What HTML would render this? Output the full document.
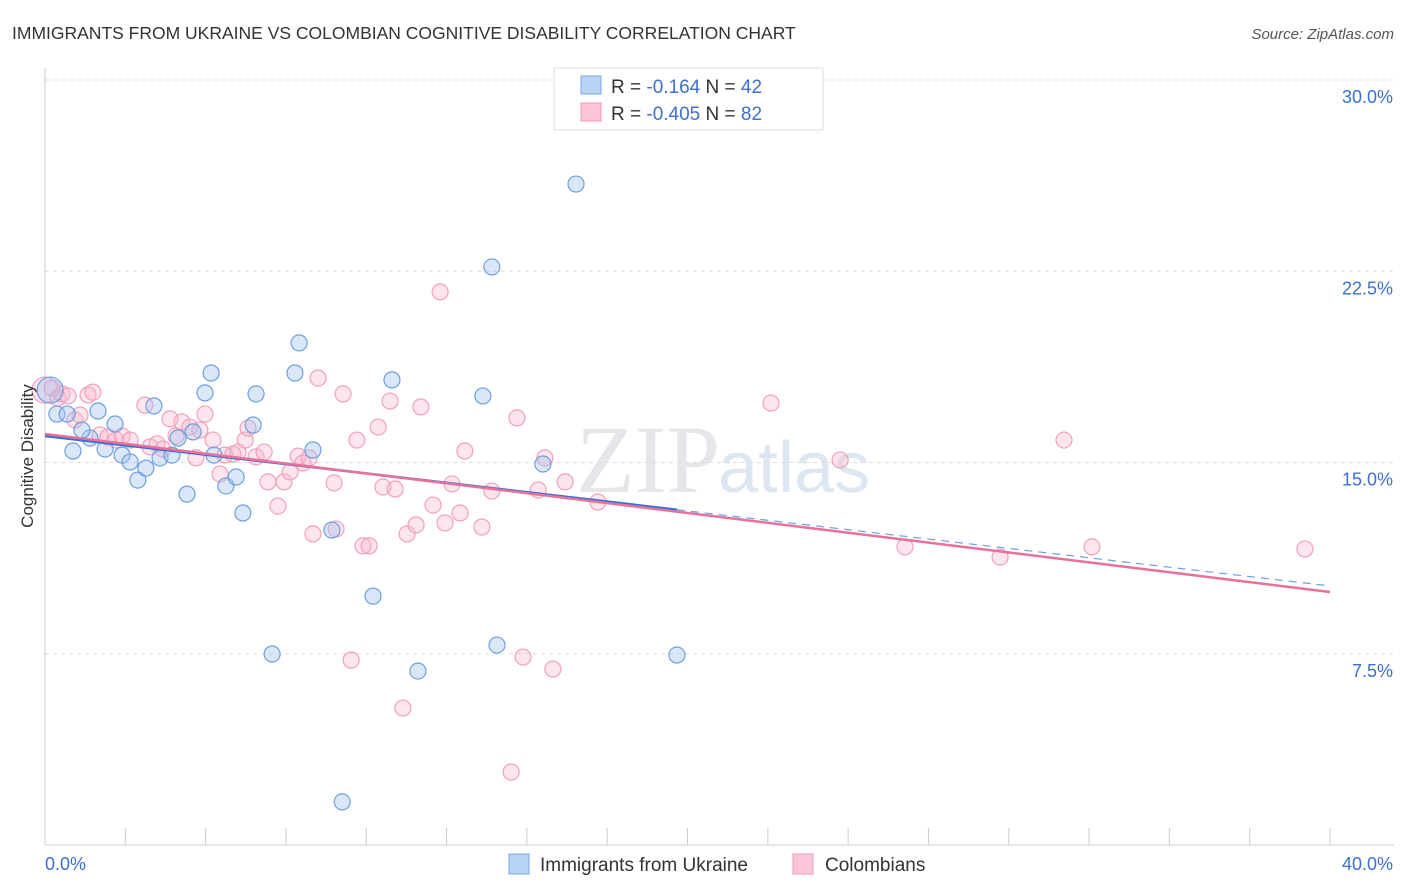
<!DOCTYPE html>
<html><head><meta charset="utf-8"><style>
body{margin:0;background:#fff;font-family:"Liberation Sans",sans-serif;}
svg{display:block}
</style></head><body>
<svg id="chart" width="1406" height="892">
<text x="12" y="39" font-size="17.5" fill="#333">IMMIGRANTS FROM UKRAINE VS COLOMBIAN COGNITIVE DISABILITY CORRELATION CHART</text>
<text x="1394" y="39" font-size="15" fill="#555" font-style="italic" text-anchor="end">Source: ZipAtlas.com</text>
<text x="720" y="492" font-size="96" fill="#e6e6ea" text-anchor="end" font-family="Liberation Serif">ZIP</text>
<text x="718" y="492" font-size="72" fill="#dde7f3">atlas</text>
<g id="grid"></g><g id="axes"></g><g id="marks"></g>
<text transform="translate(33,456) rotate(-90)" font-size="17" fill="#333" text-anchor="middle">Cognitive Disability</text>
<g>
<rect x="554" y="68" width="269" height="62" fill="#fff" stroke="#ddd"/>
<rect x="581" y="76" width="20" height="18" fill="#b8d3f5" stroke="#7aaae6"/>
<rect x="581" y="103" width="20" height="18" fill="#fbc6d6" stroke="#f19ab6"/>
<text x="611" y="93" font-size="19" fill="#333">R = <tspan fill="#3d6fd0"> -0.164</tspan>   N = <tspan fill="#3d6fd0">42</tspan></text>
<text x="611" y="120" font-size="19" fill="#333">R = <tspan fill="#3d6fd0">-0.405</tspan>   N = <tspan fill="#3d6fd0">82</tspan></text>
</g>
<g>
<rect x="509" y="854" width="20" height="20" fill="#b8d3f5" stroke="#7aaae6"/>
<text x="540" y="871" font-size="19" fill="#333">Immigrants from Ukraine</text>
<rect x="793" y="854" width="20" height="20" fill="#fbc6d6" stroke="#f19ab6"/>
<text x="825" y="871" font-size="19" fill="#333">Colombians</text>
</g>
</svg>
<script>
const yTicks=[7.5,15,22.5,30];
const yTickLabels=["7.5%","15.0%","22.5%","30.0%"];
const xTicks=[0,5,10,15,20,25,30,35,40];
const blueX=[.37,.69,1.65,.87,1.40,1.15,2.18,1.87,2.40,2.65,2.89,3.14,3.39,3.58,3.95,4.14,4.42,4.61,4.98,5.17,5.26,5.63,5.95,6.16,6.48,6.57,7.07,7.78,7.91,8.34,8.93,9.25,10.21,10.80,11.61,13.63,13.91,14.07,15.50,16.53,19.67,.16];
const blueY=[16.90,16.90,17.02,15.45,15.96,16.27,16.51,15.53,15.29,15.02,14.31,14.78,17.22,15.18,15.29,15.96,13.76,16.20,17.73,18.51,15.29,14.08,14.43,13.02,16.47,17.69,7.49,18.51,19.69,15.49,12.35,1.69,9.76,18.24,6.82,17.61,22.67,7.84,14.94,25.92,7.45,17.84];
const pinkX=[0,.22,.40,.53,.72,.93,1.09,1.34,1.49,1.71,1.96,2.21,2.40,2.65,3.11,3.27,3.49,3.67,3.89,4.08,4.26,4.51,4.70,4.82,4.98,5.23,5.45,5.60,5.85,6.01,6.23,6.32,6.57,6.82,6.94,7.25,7.44,7.63,7.88,8.03,8.22,8.50,8.34,9.00,9.06,9.28,9.53,9.71,9.90,10.09,10.37,10.52,10.74,10.90,11.14,11.27,11.55,11.70,12.08,12.30,12.45,12.67,12.92,13.07,13.60,13.91,14.51,14.69,14.88,15.35,15.56,15.81,16.19,17.21,22.60,24.75,26.77,29.73,31.72,32.59,39.22];
const pinkY=[17.84,17.92,17.53,17.69,17.61,16.67,16.86,17.65,17.76,16.08,16.00,15.88,16.04,15.88,17.25,15.61,15.73,15.53,16.71,16.04,16.59,16.39,15.18,16.27,16.90,15.88,14.55,15.29,15.33,15.41,15.88,16.35,15.22,15.41,14.24,13.29,14.24,14.63,15.25,14.98,15.18,18.31,12.20,14.20,12.39,17.69,7.25,15.88,11.73,11.73,16.39,14.04,17.41,13.96,5.37,12.20,12.55,17.18,13.33,21.69,12.63,14.16,13.02,15.45,12.47,13.88,2.86,16.75,7.37,13.92,15.18,6.90,14.24,13.45,17.33,15.10,11.69,11.29,15.88,11.69,11.61];
const blueTrend=[16.04,-0.147];
const pinkTrend=[16.12,-0.155];
const NS="http://www.w3.org/2000/svg";
const X=v=>45+v*32.125, Y=v=>80+(30-v)*25.5;
function mk(tag,attrs,parent){const e=document.createElementNS(NS,tag);for(const k in attrs)e.setAttribute(k,attrs[k]);document.getElementById(parent).appendChild(e);return e;}
yTicks.forEach((t,i)=>{
 const l=mk('line',{x1:45,x2:1394,y1:Y(t),y2:Y(t),stroke:'#ddd','stroke-dasharray':'4,4'},'grid');
 
 
 const tx=mk('text',{x:1393,y:Y(t)+23,'font-size':18,fill:'#3d6fd0','text-anchor':'end'},'grid');
 tx.textContent=yTickLabels[i];
 
 
});
const ax=mk('line',{x1:45,x2:45,y1:68,y2:845,stroke:'#ccc'},'axes');


const bx=mk('line',{x1:45,x2:1394,y1:845,y2:845,stroke:'#ccc'},'axes');


xTicks.forEach(t=>{
 const l=mk('line',{x1:X(t),x2:X(t),y1:828,y2:845,stroke:'#ccc'},'axes');
 
 
});
for(let t=2.5;t<40;t+=5){const l=mk('line',{x1:X(t),x2:X(t),y1:828,y2:845,stroke:'#ccc'},'axes');
 
 }
const x0=mk('text',{x:45,y:870,'font-size':18,fill:'#3d6fd0'},'axes');x0.textContent='0.0%';


const x1=mk('text',{x:1393,y:870,'font-size':18,fill:'#3d6fd0','text-anchor':'end'},'axes');x1.textContent='40.0%';


pinkX.forEach((v,i)=>{
 const c=mk('circle',{cx:X(v),cy:Y(pinkY[i]),r:i===0?13:8,fill:'rgba(248,180,202,0.35)',stroke:'#f0a0bb','stroke-width':1.2},'marks');
 
 
});
blueX.forEach((v,i)=>{
 const c=mk('circle',{cx:X(v),cy:Y(blueY[i]),r:i===41?13:8,fill:'rgba(160,196,240,0.4)',stroke:'#6e9fe0','stroke-width':1.2},'marks');
 
 
});
const bMax=Math.max(...blueX);
let l=mk('line',{x1:X(0),y1:Y(blueTrend[0]),x2:X(bMax),y2:Y(blueTrend[0]+blueTrend[1]*bMax),stroke:'#3a6fd0','stroke-width':2.5},'marks');


l=mk('line',{x1:X(bMax),y1:Y(blueTrend[0]+blueTrend[1]*bMax),x2:X(40),y2:Y(blueTrend[0]+blueTrend[1]*40),stroke:'#6e9fe0','stroke-width':1.2,'stroke-dasharray':'8,6'},'marks');


l=mk('line',{x1:X(0),y1:Y(pinkTrend[0]),x2:X(40),y2:Y(pinkTrend[0]+pinkTrend[1]*40),stroke:'#e8709a','stroke-width':2.5},'marks');


</script>
</body></html>
